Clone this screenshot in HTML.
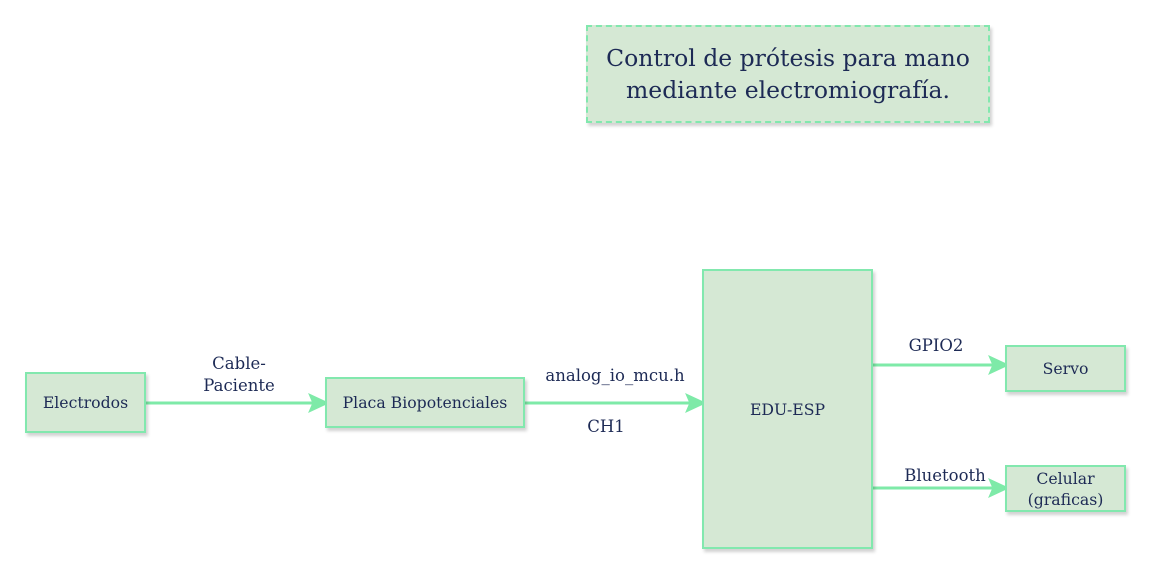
<!DOCTYPE html>
<html><head><meta charset="utf-8"><style>
body{margin:0;width:1152px;height:577px;background:#fff;position:relative;overflow:hidden;font-family:"DejaVu Serif","Liberation Serif",serif;color:#1d2a55}
.b{position:absolute;box-sizing:border-box;background:#d5e8d4;border:2px solid #82e8ae;display:flex;align-items:center;justify-content:center;text-align:center;font-size:15.7px;box-shadow:2px 3px 3px rgba(0,0,0,.18)}
.t{position:absolute;font-size:16.5px;text-align:center;transform:translateX(-50%);white-space:nowrap;line-height:22px}
</style></head><body>
<div class="b" style="left:586px;top:25px;width:404px;height:98px;border:2px dashed #82e8ae;font-size:23.5px;line-height:32px">Control de prótesis para mano<br>mediante electromiografía.</div>
<svg width="1152" height="577" style="position:absolute;left:0;top:0">
<g stroke="#7eeaa8" stroke-width="3" fill="#7eeaa8">
<line x1="146" y1="403" x2="314" y2="403"/><polygon points="326,403 311,396 314,403 311,410"/>
<line x1="525" y1="403" x2="691" y2="403"/><polygon points="703,403 688,396 691,403 688,410"/>
<line x1="873" y1="365" x2="994" y2="365"/><polygon points="1006,365 991,358 994,365 991,372"/>
<line x1="873" y1="488" x2="994" y2="488"/><polygon points="1006,488 991,481 994,488 991,495"/>
</g></svg>
<div class="b" style="left:25px;top:372px;width:121px;height:61px">Electrodos</div>
<div class="b" style="left:325px;top:377px;width:200px;height:51px">Placa Biopotenciales</div>
<div class="b" style="left:702px;top:269px;width:171px;height:280px">EDU-ESP</div>
<div class="b" style="left:1005px;top:345px;width:121px;height:47px">Servo</div>
<div class="b" style="left:1005px;top:465px;width:121px;height:47px;line-height:21px">Celular<br>(graficas)</div>
<div class="t" style="left:239px;top:353px">Cable-<br>Paciente</div>
<div class="t" style="left:615px;top:365px">analog_io_mcu.h</div>
<div class="t" style="left:606px;top:416px">CH1</div>
<div class="t" style="left:936px;top:335px">GPIO2</div>
<div class="t" style="left:945px;top:465px">Bluetooth</div>
</body></html>
